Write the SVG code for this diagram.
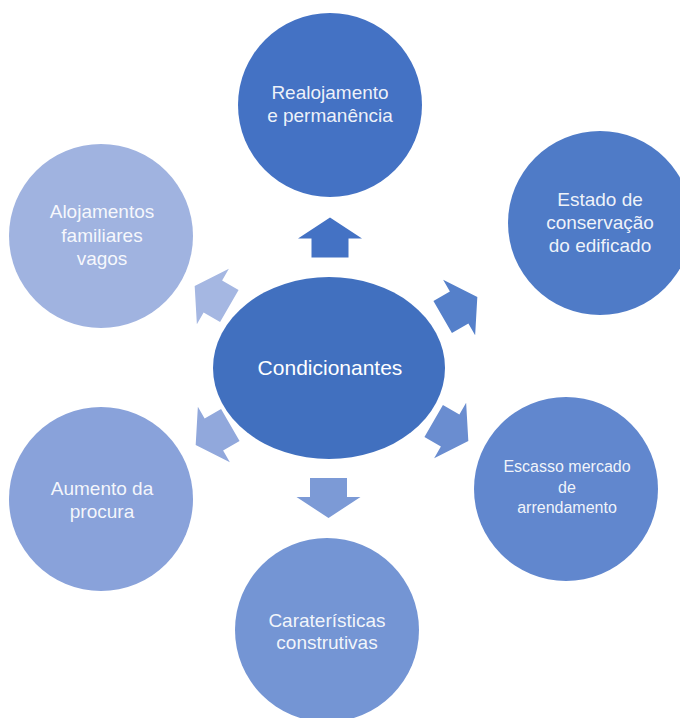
<svg xmlns="http://www.w3.org/2000/svg" xmlns:xlink="http://www.w3.org/1999/xlink" width="680" height="718" viewBox="0 0 680 718">
  <defs>
    <style>
      .lbl { font-family: "Liberation Sans", Arial, sans-serif; font-size: 19px; fill: #ffffff; fill-opacity: 0.92; text-anchor: middle; }
      .sm { font-size: 16px; }
      .hub { font-size: 21px; fill-opacity: 1; }
    </style>
    <!-- block arrow pointing along +x, centred on the origin -->
    <path id="blockArrow" d="M-20,-18.5 H-1 V-32 L20,0 L-1,32 V18.5 H-20 Z"/>
  </defs>
  <rect width="680" height="718" fill="#ffffff"/>

  <g id="connectors">
    <use xlink:href="#blockArrow" transform="translate(330,237.5) rotate(-90)" fill="#4472C4"/>
    <use xlink:href="#blockArrow" transform="translate(460,307) rotate(-30)" fill="#5580CA"/>
    <use xlink:href="#blockArrow" transform="translate(451,431) rotate(30)" fill="#6A8DD0"/>
    <use xlink:href="#blockArrow" transform="translate(328.5,498) rotate(90)" fill="#7C9AD6"/>
    <use xlink:href="#blockArrow" transform="translate(213,435) rotate(150)" fill="#91A8DC"/>
    <use xlink:href="#blockArrow" transform="translate(212,296) rotate(210)" fill="#A5B7E2"/>
  </g>

  <g id="hub">
    <ellipse cx="329" cy="368" rx="116" ry="91" fill="#4170BF"/>
    <text class="lbl hub" x="330" y="375">Condicionantes</text>
  </g>

  <g id="node-realojamento">
    <circle cx="330" cy="105" r="92" fill="#4472C4"/>
    <text class="lbl" x="330" y="99">Realojamento</text>
    <text class="lbl" x="330" y="122">e permanência</text>
  </g>

  <g id="node-estado">
    <circle cx="600" cy="223" r="92" fill="#4F7BC7"/>
    <text class="lbl" x="600" y="206">Estado de</text>
    <text class="lbl" x="600" y="229">conservação</text>
    <text class="lbl" x="600" y="252">do edificado</text>
  </g>

  <g id="node-escasso">
    <circle cx="566" cy="489" r="92" fill="#6187CE"/>
    <text class="lbl sm" x="567" y="472">Escasso mercado</text>
    <text class="lbl sm" x="567" y="493">de</text>
    <text class="lbl sm" x="567" y="513">arrendamento</text>
  </g>

  <g id="node-caracteristicas">
    <circle cx="327" cy="630" r="92" fill="#7495D4"/>
    <text class="lbl" x="327" y="627">Caraterísticas</text>
    <text class="lbl" x="327" y="649">construtivas</text>
  </g>

  <g id="node-procura">
    <circle cx="101" cy="499" r="92" fill="#89A2DA"/>
    <text class="lbl" x="102" y="495">Aumento da</text>
    <text class="lbl" x="102" y="518">procura</text>
  </g>

  <g id="node-alojamentos">
    <circle cx="101" cy="236" r="92" fill="#A0B3E0"/>
    <text class="lbl" x="102" y="218">Alojamentos</text>
    <text class="lbl" x="102" y="242">familiares</text>
    <text class="lbl" x="102" y="265">vagos</text>
  </g>
</svg>
